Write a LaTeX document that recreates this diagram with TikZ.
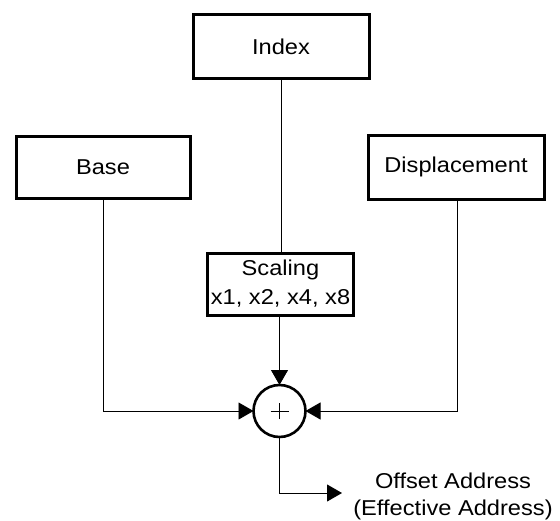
\documentclass[tikz,border=0pt]{standalone}
\usepackage{fontspec}
\setmainfont{Liberation Sans}[FakeStretch=1.1]
\usetikzlibrary{arrows.meta}
\tikzset{
  blockbox/.style={draw, line width=3pt, rectangle, inner sep=0pt, outer sep=0pt,
    font=\fontsize{21.5}{29}\selectfont, align=center},
  wire/.style={line width=0.9pt},
  tip/.style={-{Triangle[length=15pt,width=17pt]}},
  lbl/.style={font=\fontsize{21.5}{27}\selectfont, align=center, inner sep=0pt}
}
\begin{document}
\begin{tikzpicture}[x=1pt,y=-1pt]
  \useasboundingbox (0,0) rectangle (560,520);
  % input registers
  \node[blockbox, minimum width=176pt, minimum height=64pt] (index) at (281,46.5) {Index};
  \node[blockbox, minimum width=174pt, minimum height=62pt] (base) at (103,167) {Base};
  \node[blockbox, minimum width=176pt, minimum height=64pt] (disp) at (456,167) {Displacement};
  \node[blockbox, minimum width=146pt, minimum height=62pt] (scale) at (280.5,284) {Scaling\\x1, x2, x4, x8};
  % adder
  \node[draw, circle, line width=2.6pt, minimum size=52pt, inner sep=0pt, outer sep=0pt] (sum) at (279.5,411) {};
  \draw[wire] ([xshift=-9pt]sum.center) -- ([xshift=9pt]sum.center)
              ([yshift=-8pt]sum.center) -- ([yshift=8pt]sum.center);
  % connections
  \draw[wire] (index.south) -- (index.south |- scale.north);
  \draw[wire, tip] (scale.south -| sum.north) -- (sum.north);
  \draw[wire, tip] (base.south) |- (sum.west);
  \draw[wire, tip] ([xshift=1pt]disp.south) |- (sum.east);
  \coordinate (out) at (342,493);
  \draw[wire, tip] (sum.south) |- (out);
  % result
  \node[lbl] (res) at (453,496) {Offset Address\\(Effective Address)};
\end{tikzpicture}
\end{document}
